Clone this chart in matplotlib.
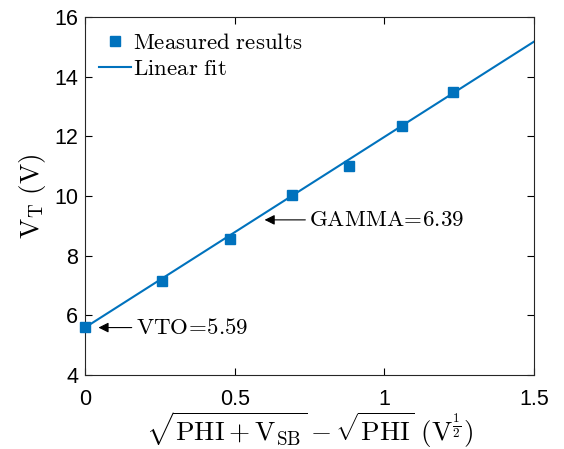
import matplotlib
matplotlib.use("Agg")
import matplotlib.pyplot as plt
import numpy as np

x_meas = [0.0, 0.257, 0.484, 0.691, 0.882, 1.059, 1.229]
y_meas = [5.60, 7.15, 8.55, 10.02, 10.99, 12.35, 13.48]
vto = 5.59
gamma = 6.39
x_fit = [0.0, 1.5]

plt.rcParams['mathtext.fontset'] = 'cm'
plt.rcParams['font.family'] = ['Liberation Sans', 'DejaVu Sans']

fig = plt.figure(figsize=(5.64, 4.49), dpi=100)
ax = fig.add_axes([0.1507, 0.1648, 0.7961, 0.7973])
c = '#0072BD'
ax.plot(x_meas, y_meas, 's', color=c, markersize=7.5, label=r'$\mathrm{Measured\ results}$',
        zorder=3, clip_on=False)
yf = [vto + gamma * v for v in x_fit]
ax.plot(x_fit, yf, '-', color=c, lw=1.5, label=r'$\mathrm{Linear\ fit}$')

ax.set_xlim(0, 1.5)
ax.set_ylim(4, 16)
ax.set_xticks([0, 0.5, 1, 1.5])
ax.set_xticklabels(['0', '0.5', '1', '1.5'])
ax.set_yticks([4, 6, 8, 10, 12, 14, 16])
ax.tick_params(direction='in', top=True, right=True, labelsize=15.5, length=5, width=0.8, pad=5)
ax.tick_params(axis='x', pad=10)
for s in ax.spines.values():
    s.set_linewidth(0.8)
    s.set_color('#262626')

ax.set_xlabel(r'$\sqrt{\mathrm{PHI}+\mathrm{V_{SB}}}-\sqrt{\mathrm{PHI}}\ (\mathrm{V}^{\frac{1}{2}})$', fontsize=19.5, labelpad=0)
ax.set_ylabel(r'$\mathrm{V_T\ (V)}$', fontsize=19.5, labelpad=4)

leg = ax.legend(loc='upper left', frameon=False, fontsize=16.5, handlelength=1.4,
                handletextpad=0.1, borderaxespad=0.2, labelspacing=0.15, borderpad=0.4)

ax.annotate(r'$\mathrm{VTO}\!=\!\mathrm{5.59}$', xy=(0.045, vto), xytext=(0.17, vto),
            fontsize=16.5, va='center',
            arrowprops=dict(arrowstyle='-|>', color='black', lw=0.8, mutation_scale=15,
                            shrinkA=1, shrinkB=0))
ax.annotate(r'$\mathrm{GAMMA}\!=\!\mathrm{6.39}$', xy=(0.6, 9.2), xytext=(0.75, 9.2),
            fontsize=16.5, va='center',
            arrowprops=dict(arrowstyle='-|>', color='black', lw=0.8, mutation_scale=15,
                            shrinkA=1, shrinkB=0))

fig.savefig('out.png', dpi=100)
